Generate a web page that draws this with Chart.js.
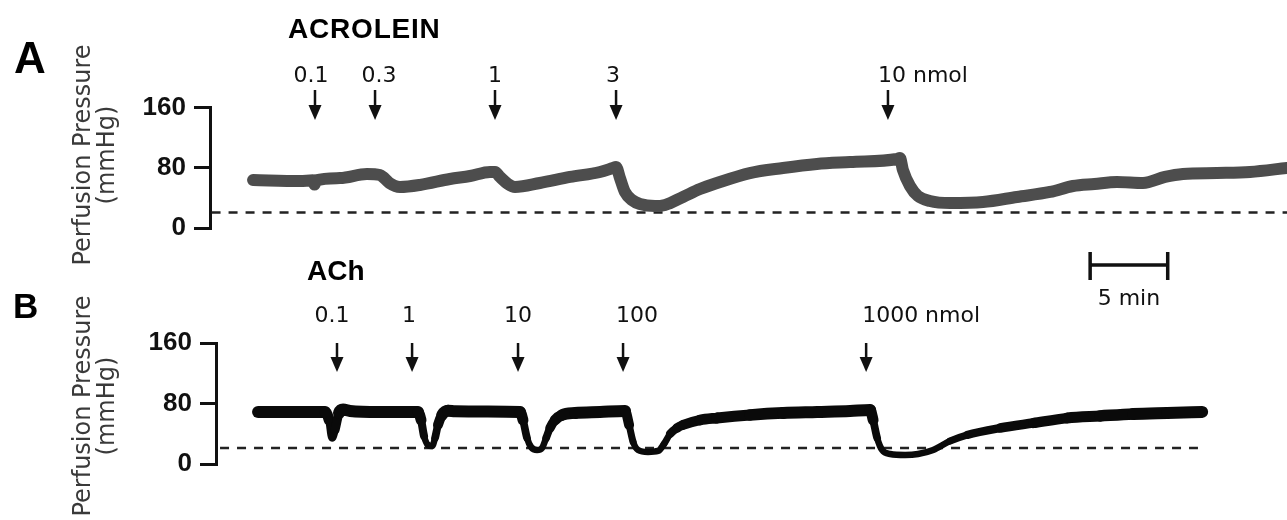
<!DOCTYPE html>
<html><head><meta charset="utf-8">
<script src="https://cdn.jsdelivr.net/npm/chart.js@4.4.1/dist/chart.umd.min.js"></script>
<style>
html,body{margin:0;padding:0;background:#fff;}
#wrap{position:relative;width:1287px;height:520px;overflow:hidden;background:#fff;}
canvas{position:absolute;left:0;}
#cA{top:0;} #cB{top:240px;}
</style></head><body>
<div id="wrap"><canvas id="cA" width="1287" height="280"></canvas><canvas id="cB" width="1287" height="280"></canvas></div>
<script>
// ---- data (time in min, pressure in mmHg) ----
const yTicks = [0, 80, 160];
const baselineLevel = 21;
const timeMax = 69.04;

const doseTimesA = [6.73, 10.58, 18.27, 26.03, 43.46];
const doseLabelsA = ['0.1', '0.3', '1', '3', '10'];
const doseTimesB = [7.8, 12.64, 19.47, 26.24, 41.91];
const doseLabelsB = ['0.1', '1', '10', '100', '1000'];
const doseUnit = 'nmol';

const timeA = [2.76,5.77,6.6,6.7,6.8,8.33,10.06,10.9,11.09,11.5,12.18,13.46,15.38,16.67,17.95,18.27,18.59,19.1,19.55,21.15,23.08,25.0,25.83,26.03,26.28,26.6,27.05,27.56,28.53,29.17,30.32,31.41,32.5,34.6,36.73,38.9,41.03,44.04,44.23,44.42,44.87,45.38,46.15,47.44,49.55,51.73,53.85,55.32,56.7,58.14,59.81,61.22,62.37,64.55,66.67,69.04];
const pressureA = [64.0,62.6,63.5,58,63.5,66.5,71.9,70.6,68,60,54.7,57.4,65.3,69.3,74.6,74.6,68,58.7,54.7,60,68,74.6,79.9,81.2,66.6,48,37.5,32.2,29.5,30.9,41.5,52,60,73.2,79.9,85.2,87.8,91.8,93.1,77.2,56,42.8,36.2,33.5,34.8,41.5,48.1,56,58.7,61.3,60,68,71.9,73.2,74.6,79.9];

const timeB = [2.71,4.77,7.03,7.29,7.48,7.67,7.93,8.19,8.64,10.5,13.02,13.22,13.41,13.67,13.93,14.12,14.31,14.57,14.96,15.41,17.5,19.6,19.79,20.05,20.31,20.7,21.02,21.28,21.53,21.86,22.31,23.15,24.76,26.37,26.63,26.89,27.21,27.85,28.5,28.88,29.27,29.72,30.11,31.21,32.3,34.43,36.56,38.75,40.88,42.17,42.36,42.62,42.94,43.46,44.42,45.26,46.23,47.32,48.42,50.55,52.68,54.87,56.99,59.12,61.32,63.57];
const pressureB = [68.8,68.8,68.8,58.2,34.4,45,67.5,72,70.1,68.8,68.8,58.2,37.0,25.1,23.8,34.4,51.6,64.8,70.5,69.8,69.5,68.8,58.2,34.4,22.5,18.5,21.2,34.4,47.6,58.2,64.8,67.5,68.8,70.1,51.6,29.1,18.5,15.9,17.2,26.5,39.7,47.6,51.6,58.2,60.8,64.8,67.5,68.8,70.1,71.4,58.2,34.4,18.5,13.2,11.9,13.2,18.5,30.4,38.4,47.6,54.2,60.8,63.5,66.1,67.5,68.8];

const dashStartA = 0.1, dashEndA = 69.04;
const dashStartB = 0.26, dashEndB = 63.3;
const scaleBarStart = 56.35, scaleBarMinutes = 5;

// ---- helpers ----
const pts = (t, v) => t.map((x, i) => ({x, y: v[i]}));

const decor = {
  id: 'decor',
  afterDraw(chart, args, o) {
    const ctx = chart.ctx, xs = chart.scales.x;
    ctx.save();
    ctx.fillStyle = '#000';
    ctx.textAlign = 'left';
    ctx.textBaseline = 'alphabetic';
    ctx.font = o.letterFont;
    ctx.fillText(o.letter, o.letterX, o.letterY);
    ctx.font = 'bold 28px "Liberation Sans", Arial, sans-serif';
    ctx.letterSpacing = o.titleSpacing;
    ctx.fillText(o.title, o.titleX, o.titleY);
    ctx.letterSpacing = '0px';
    // y title
    ctx.fillStyle = '#3a3a3a';
    ctx.font = '24px "DejaVu Sans", sans-serif';
    ctx.textAlign = 'center';
    ctx.textBaseline = 'middle';
    ['Perfusion Pressure', '(mmHg)'].forEach((line, i) => {
      ctx.save();
      ctx.translate(o.yTitleX[i], o.yTitleY);
      ctx.rotate(-Math.PI / 2);
      ctx.fillText(line, 0, 0);
      ctx.restore();
    });
    // arrows and dose labels
    ctx.fillStyle = '#111';
    ctx.strokeStyle = '#111';
    ctx.font = '22px "DejaVu Sans", sans-serif';
    ctx.textBaseline = 'alphabetic';
    o.times.forEach((t, i) => {
      const x = xs.getPixelForValue(t);
      ctx.lineWidth = 2.5;
      ctx.beginPath();
      ctx.moveTo(x, o.arrowTop);
      ctx.lineTo(x, o.arrowTip - 10);
      ctx.stroke();
      ctx.beginPath();
      ctx.moveTo(x - 6.5, o.arrowTip - 15);
      ctx.lineTo(x + 6.5, o.arrowTip - 15);
      ctx.lineTo(x, o.arrowTip);
      ctx.closePath();
      ctx.fill();
      if (i === o.times.length - 1) {
        ctx.textAlign = 'left';
        ctx.fillText(o.labels[i] + ' ' + doseUnit, x - o.lastOffset, 82);
      } else {
        ctx.textAlign = 'center';
        ctx.fillText(o.labels[i], x + (o.labelShift[i] || 0), 82);
      }
    });
    // scale bar
    if (o.scaleBar) {
      const x1 = xs.getPixelForValue(scaleBarStart);
      const x2 = xs.getPixelForValue(scaleBarStart + scaleBarMinutes);
      ctx.lineWidth = 3.5;
      ctx.beginPath();
      ctx.moveTo(x1, 25); ctx.lineTo(x2, 25);
      ctx.moveTo(x1, 12); ctx.lineTo(x1, 40);
      ctx.moveTo(x2, 12); ctx.lineTo(x2, 40);
      ctx.stroke();
      ctx.textAlign = 'center';
      ctx.fillText(scaleBarMinutes + ' min', (x1 + x2) / 2, 65);
    }
    ctx.restore();
  }
};

function yAxis(w) {
  return {
    min: 0, max: 160,
    afterFit(s) { s.width = w; },
    afterBuildTicks(s) { s.ticks = yTicks.map(v => ({value: v})); },
    ticks: {font: {family: '"Liberation Sans", Arial, sans-serif', weight: 'bold', size: 26}, color: '#111', padding: 8},
    grid: {drawOnChartArea: false, drawTicks: true, tickLength: 16, lineWidth: 3, color: '#111'},
    border: {display: true, width: 3, color: '#111'}
  };
}

function makeChart(id, trace, dash, yw, pad, traceStyle, deco) {
  return new Chart(document.getElementById(id), {
    type: 'line',
    data: {datasets: [
      Object.assign({data: trace, pointRadius: 0, cubicInterpolationMode: 'monotone',
        borderCapStyle: 'round', borderJoinStyle: 'round', fill: false}, traceStyle),
      {data: dash, pointRadius: 0, borderColor: '#222', borderWidth: 2.5, borderDash: [9, 8], fill: false}
    ]},
    options: {
      responsive: false, animation: false, devicePixelRatio: 1, events: [],
      layout: {padding: pad},
      scales: {
        x: {type: 'linear', min: 0, max: timeMax, display: false},
        y: yAxis(yw)
      },
      plugins: {legend: {display: false}, tooltip: {enabled: false}, decor: deco}
    },
    plugins: [decor]
  });
}

makeChart('cA', pts(timeA, pressureA),
  [{x: dashStartA, y: baselineLevel}, {x: dashEndA, y: baselineLevel}],
  210, {left: 0, right: 0, top: 107.5, bottom: 51.7},
  {borderColor: '#4d4d4d', borderWidth: 12},
  {letter: 'A', letterFont: 'bold 44px "Liberation Sans", Arial, sans-serif', letterX: 14, letterY: 73,
   title: 'ACROLEIN', titleX: 288, titleY: 38, titleSpacing: '0.8px',
   yTitleX: [84, 108], yTitleY: 155,
   times: doseTimesA, labels: doseLabelsA, labelShift: [-4, 4, 0, -3], lastOffset: 10,
   arrowTop: 90, arrowTip: 120, scaleBar: false});

makeChart('cB', pts(timeB, pressureB),
  [{x: dashStartB, y: baselineLevel}, {x: dashEndB, y: baselineLevel}],
  216, {left: 0, right: 0, top: 103, bottom: 56},
  {borderColor: '#0a0a0a', borderWidth: 12,
   segment: {borderWidth: c => {
     const v = Math.min(c.p0.parsed.y, c.p1.parsed.y);
     return 6.5 + 5.5 * Math.max(0, Math.min(1, (v - 25) / 42));
   }}},
  {letter: 'B', letterFont: 'bold 35px "Liberation Sans", Arial, sans-serif', letterX: 13, letterY: 78,
   title: 'ACh', titleX: 307, titleY: 40, titleSpacing: '0px',
   yTitleX: [84, 108], yTitleY: 166,
   times: doseTimesB, labels: doseLabelsB, labelShift: [-5, -3, 0, 14], lastOffset: 4,
   arrowTop: 103, arrowTip: 132, scaleBar: true});
</script>
</body></html>
